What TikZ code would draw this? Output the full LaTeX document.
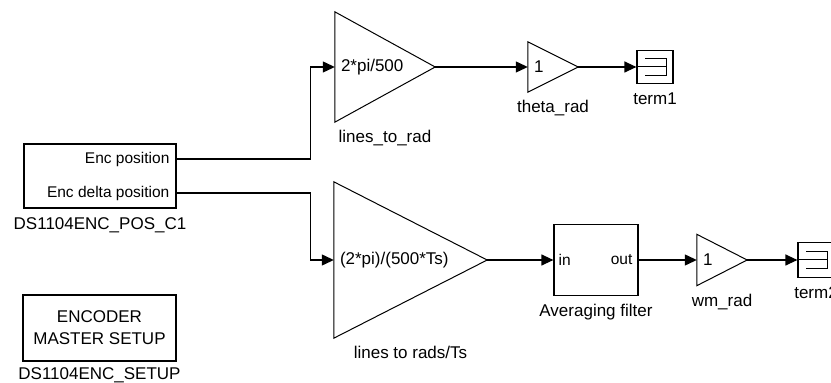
\documentclass[tikz,border=0pt]{standalone}
\usepackage{fontspec}
\setmainfont{Liberation Sans}
\usetikzlibrary{positioning, calc, arrows.meta}

\begin{document}
\begin{tikzpicture}[x=1pt, y=1pt,
    blockbox/.style={draw, line width=1.2pt, inner sep=0pt, font=\fontsize{17}{22}\selectfont},
    gain/.style={inner xsep=6pt, inner ysep=0pt, align=left, font=\fontsize{17}{22}\selectfont},
    termbox/.style={draw, line width=1.2pt, inner sep=0pt, minimum width=36pt},
    blocklabel/.style={inner sep=0pt, text height=12pt, text depth=3.5pt, font=\fontsize{17}{22}\selectfont},
    portlabel/.style={inner sep=0pt, font=\fontsize{15.5}{18}\selectfont},
    sig/.style={line width=1.2pt, -{Triangle[length=12pt, width=11pt]}}]
    % Fix picture size
    \useasboundingbox (0,0) rectangle (831,383);

    % Draw encoder blocks
    \node[blockbox, minimum width=152pt, minimum height=64pt] (enc) at (100,207) {};
    \node[blockbox, minimum width=153pt, minimum height=66pt, align=center] (setup) at (99.5,55) {ENCODER\\MASTER SETUP};

    % Encoder ports
    \coordinate (encpos) at ([yshift=17pt]enc.east);
    \coordinate (encdelta) at ([yshift=-17pt]enc.east);
    \node[portlabel, anchor=east] (encposlbl) at ([xshift=-7pt]encpos) {Enc position};
    \node[portlabel, anchor=east] (encdeltalbl) at ([xshift=-7pt]encdelta) {Enc delta position};

    % Draw gain blocks
    \node[gain, minimum height=110pt, text width=88pt] (linesrad) at (385,316) {2*pi/500};
    \node[gain, minimum height=156pt, text width=141pt] (linesrads) at (410.5,123) {(2*pi)/(500*Ts)};
    \node[gain, minimum height=50pt, text width=38pt] (thetarad) at (553,316) {1};
    \node[gain, minimum height=51pt, text width=38pt] (wmrad) at (722,123) {1};
    \foreach \g in {linesrad, linesrads, thetarad, wmrad}
        \draw[line width=1pt] (\g.north west) -- (\g.east) -- (\g.south west) -- cycle;

    % Draw filter block
    \node[blockbox, minimum width=84pt, minimum height=71pt] (filt) at (596,123) {};
    \node[portlabel, anchor=west] (filtin) at ([xshift=5pt]filt.west) {in};
    \node[portlabel, anchor=east] (filtout) at ([xshift=-6pt]filt.east) {out};

    % Draw terminators
    \node[termbox, minimum height=33pt] (term1) at (655,316) {};
    \node[termbox, minimum height=35pt] (term2) at (816,123) {};
    \foreach \t in {term1, term2} {
        \draw[line width=1pt] ([shift={(-10pt,8.5pt)}]\t.center) -- ([shift={(11pt,8.5pt)}]\t.center)
            -- ([shift={(11pt,-8.5pt)}]\t.center) -- ([shift={(-10pt,-8.5pt)}]\t.center);
        \draw[line width=1pt] (\t.west) -- ([xshift=11pt]\t.center);
    }

    % Add block names
    \node[blocklabel, below=8.5pt of enc] (enclbl) {DS1104ENC\_POS\_C1};
    \node[blocklabel, below=6pt of setup] (setuplbl) {DS1104ENC\_SETUP};
    \node[blocklabel, below=8pt of linesrad] (linesradlbl) {lines\_to\_rad};
    \node[blocklabel, below=8.5pt of linesrads] (linesradslbl) {lines to rads/Ts};
    \node[blocklabel, below=8.5pt of thetarad] (thetaradlbl) {theta\_rad};
    \node[blocklabel, below=8.5pt of wmrad] (wmradlbl) {wm\_rad};
    \node[blocklabel, below=8.5pt of filt] (filtlbl) {Averaging filter};
    \node[blocklabel, below=8.5pt of term1] (term1lbl) {term1};
    \node[blocklabel, below=8.5pt of term2] (term2lbl) {term2};

    % Draw signal lines
    \draw[sig] (encpos) -| ([xshift=-24pt]linesrad.west) -- (linesrad.west);
    \draw[sig] (encdelta) -| ([xshift=-23pt]linesrads.west) -- (linesrads.west);
    \draw[sig] (linesrad.east) -- (thetarad.west);
    \draw[sig] (thetarad.east) -- (term1.west);
    \draw[sig] (linesrads.east) -- (filt.west);
    \draw[sig] (filt.east) -- (wmrad.west);
    \draw[sig] (wmrad.east) -- (term2.west);
\end{tikzpicture}
\end{document}
